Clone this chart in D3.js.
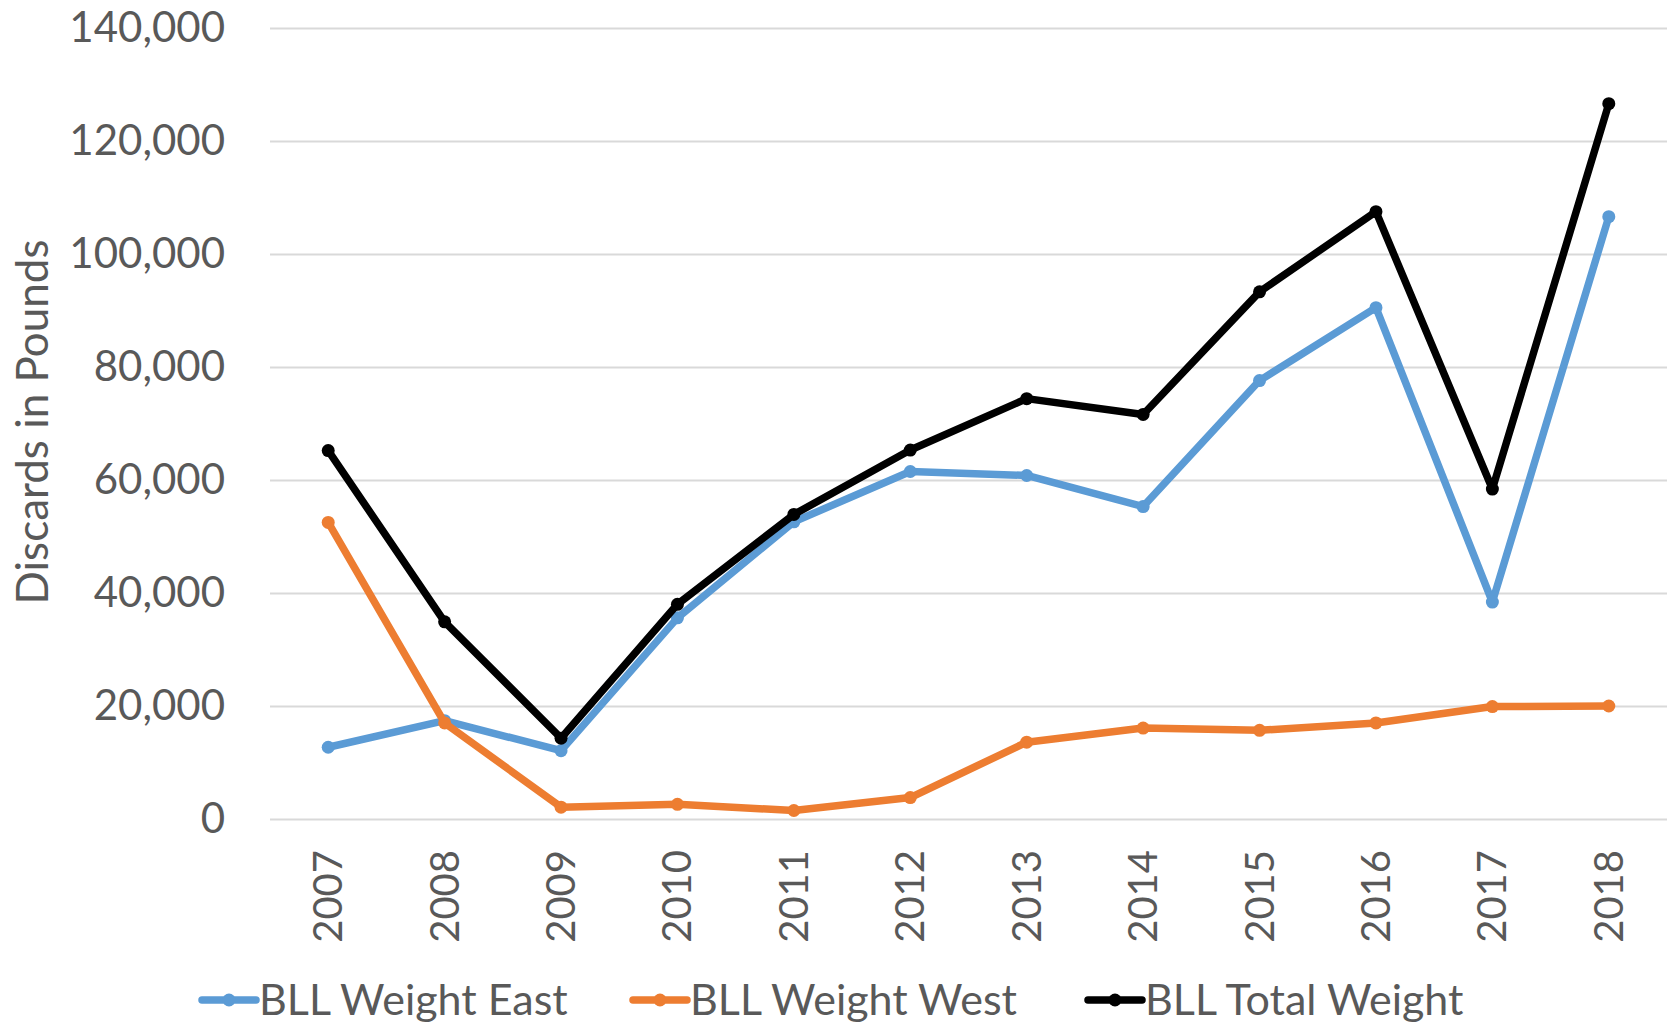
<!DOCTYPE html>
<html>
<head>
<meta charset="utf-8">
<script src="https://cdn.jsdelivr.net/npm/d3@7"></script>
<style>
  body { margin: 0; background: #fff; }
  text { font-family: Lato, "Open Sans", sans-serif; fill: #595959; }
</style>
</head>
<body>
<svg width="1677" height="1025"></svg>
<script>
const years = ["2007","2008","2009","2010","2011","2012","2013","2014","2015","2016","2017","2018"];
const east  = [12700, 17400, 12100, 35600, 52600, 61500, 60800, 55300, 77600, 90500, 38400, 106600];
const west  = [52500, 17000, 2100, 2600, 1500, 3800, 13600, 16100, 15700, 17000, 19900, 20000];
const total = [65200, 34900, 14300, 38000, 53900, 65300, 74400, 71600, 93300, 107500, 58400, 126600];
const yTicks = [0, 20000, 40000, 60000, 80000, 100000, 120000, 140000];
const seriesNames = ["BLL Weight East", "BLL Weight West", "BLL Total Weight"];
const seriesColors = ["#5B9BD5", "#ED7D31", "#000000"];

function drawChart() {
  const svg = d3.select("svg");
  const margin = { top: 28, right: 10, bottom: 206, left: 270 };
  const width = 1667 - margin.left;
  const height = 819 - margin.top;
  const g = svg.append("g").attr("transform", `translate(${margin.left},${margin.top})`);

  const x = d3.scaleBand().domain(years).range([0, width]).padding(0);
  const y = d3.scaleLinear().domain([0, 140000]).range([height, 0]);

  // gridlines + y labels
  const yAxis = g.append("g")
    .call(d3.axisLeft(y).tickValues(yTicks).tickSize(-width).tickPadding(45)
      .tickFormat(d3.format(",")));
  yAxis.select(".domain").remove();
  yAxis.selectAll(".tick line").attr("stroke", "#D9D9D9").attr("stroke-width", 2);
  yAxis.selectAll(".tick text").attr("font-size", 42).attr("fill", "#595959");

  // x labels, rotated
  const xAxis = g.append("g")
    .attr("transform", `translate(0,${height})`)
    .call(d3.axisBottom(x).tickSize(0).tickPadding(0));
  xAxis.select(".domain").remove();
  xAxis.selectAll(".tick text")
    .attr("font-size", 40)
    .attr("fill", "#595959")
    .attr("text-anchor", "end")
    .attr("transform", "translate(0,31) rotate(-90)")
    .attr("x", 0).attr("y", 0)
    .attr("dy", "0.35em");

  // y title
  svg.append("text")
    .attr("transform", "translate(48,422) rotate(-90)")
    .attr("text-anchor", "middle")
    .attr("font-size", 44)
    .text("Discards in Pounds");

  const data = [east, west, total];
  const line = d3.line()
    .x((d, i) => x(years[i]) + x.bandwidth() / 2)
    .y(d => y(d));

  data.forEach((vals, s) => {
    g.append("path")
      .datum(vals)
      .attr("fill", "none")
      .attr("stroke", seriesColors[s])
      .attr("stroke-width", 7.5)
      .attr("stroke-linejoin", "round")
      .attr("stroke-linecap", "round")
      .attr("d", line);
    g.selectAll(".pt" + s)
      .data(vals)
      .enter().append("circle")
      .attr("class", "pt" + s)
      .attr("cx", (d, i) => x(years[i]) + x.bandwidth() / 2)
      .attr("cy", d => y(d))
      .attr("r", 6.5)
      .attr("fill", seriesColors[s]);
  });

  // legend
  const legendX = [200, 631, 1086];
  const legend = svg.append("g").attr("transform", "translate(0,1000)");
  seriesNames.forEach((name, s) => {
    const item = legend.append("g").attr("transform", `translate(${legendX[s]},0)`);
    item.append("line")
      .attr("x1", 2).attr("x2", 56).attr("y1", 0).attr("y2", 0)
      .attr("stroke", seriesColors[s]).attr("stroke-width", 7.5)
      .attr("stroke-linecap", "round");
    item.append("circle").attr("cx", 29).attr("cy", 0).attr("r", 6.5)
      .attr("fill", seriesColors[s]);
    item.append("text")
      .attr("x", 59).attr("y", 0).attr("dy", "0.35em")
      .attr("font-size", 43)
      .text(name);
  });
}
drawChart();
</script>
</body>
</html>
